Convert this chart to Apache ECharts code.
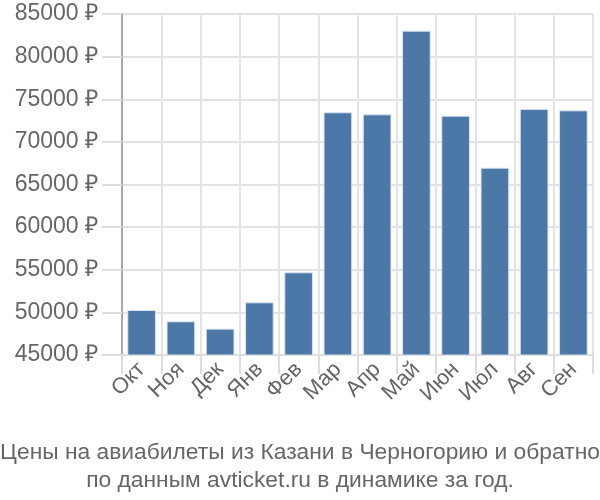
<!DOCTYPE html>
<html>
<head>
<meta charset="utf-8">
<script src="https://cdn.jsdelivr.net/npm/echarts@6/dist/echarts.min.js"></script>
<style>html,body{margin:0;padding:0;background:#fff}#c{width:600px;height:500px}</style>
</head>
<body>
<div id="c"></div>
<script>
var categories = ['Окт','Ноя','Дек','Янв','Фев','Мар','Апр','Май','Июн','Июл','Авг','Сен'];
var prices = [50280, 48950, 48090, 51180, 54700, 73470, 73230, 83040, 73070, 66970, 73860, 73700];
var yMin = 45000, yMax = 85000, yStep = 5000;
var titleLines = ['Цены на авиабилеты из Казани в Черногорию и обратно', 'по данным avticket.ru в динамике за год.'];

var chart = echarts.init(document.getElementById('c'));
var font = 'Liberation Sans, Arial, sans-serif';
chart.setOption({
  animation: false,
  title: {
    text: titleLines.join('\n'),
    left: 'center',
    top: 434,
    textStyle: {fontFamily: font, fontSize: 22.8, fontWeight: 'normal', color: '#666', lineHeight: 28}
  },
  grid: {left: 122, right: 7, top: 14, bottom: 145},
  xAxis: {
    type: 'category',
    data: categories,
    boundaryGap: true,
    axisLine: {lineStyle: {color: '#ddd', width: 2}},
    axisTick: {show: true, length: 19, alignWithLabel: false, lineStyle: {color: '#ddd', width: 2}},
    splitLine: {show: true, lineStyle: {color: '#e3e3e3', width: 2}},
    axisLabel: {rotate: 45, fontFamily: font, fontSize: 22, color: '#666', margin: 11, interval: 0}
  },
  yAxis: {
    type: 'value',
    min: yMin, max: yMax, interval: yStep,
    axisLine: {show: true, lineStyle: {color: '#aaa', width: 2}},
    axisTick: {show: true, length: 20, lineStyle: {color: '#ddd', width: 2}},
    splitLine: {show: true, lineStyle: {color: '#e3e3e3', width: 2}},
    axisLabel: {fontFamily: font, fontSize: 23, color: '#666', margin: 24, formatter: function(v){return v + ' ₽';}}
  },
  series: [{
    type: 'bar',
    data: prices,
    barWidth: '73%',
    itemStyle: {color: '#4c78a8', borderColor: 'rgba(220,230,240,0.9)', borderWidth: 1}
  }]
});
</script>
</body>
</html>
